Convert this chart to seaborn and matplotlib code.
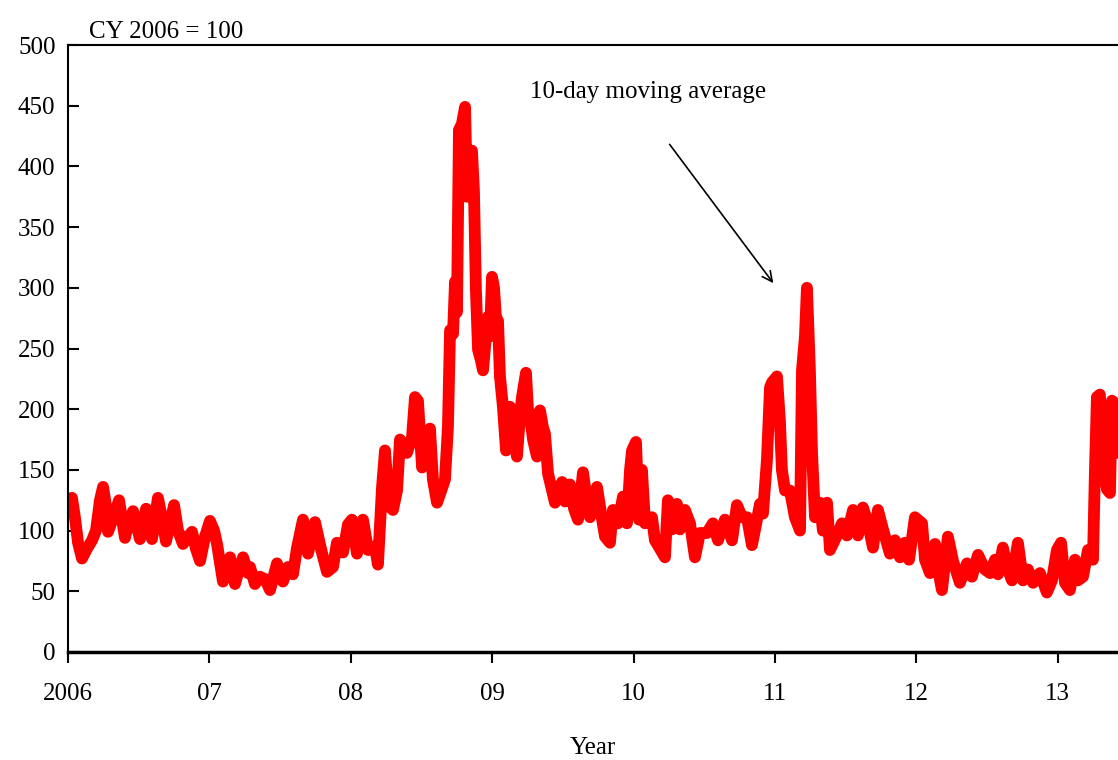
import numpy as np
import pandas as pd
import seaborn as sns
import matplotlib.pyplot as plt

# index values (CY 2006 = 100)
# t = years after 1 Jan 2006
t = [0.000, 0.028, 0.050, 0.071, 0.099, 0.134, 0.170, 0.198, 0.226, 0.248,
     0.269, 0.283, 0.318, 0.361, 0.403, 0.431, 0.460, 0.509, 0.552, 0.594,
     0.636, 0.665, 0.693, 0.750, 0.778, 0.813, 0.849, 0.877, 0.905, 0.934,
     0.969, 1.004, 1.033, 1.054, 1.096, 1.124, 1.146, 1.181, 1.202, 1.238,
     1.273, 1.287, 1.322, 1.358, 1.393, 1.429, 1.478, 1.520, 1.556, 1.591,
     1.620, 1.662, 1.697, 1.747, 1.789, 1.832, 1.874, 1.902, 1.945, 1.980,
     2.008, 2.044, 2.086, 2.122, 2.171, 2.192, 2.221, 2.242, 2.270, 2.298,
     2.327, 2.348, 2.397, 2.433, 2.454, 2.475, 2.504, 2.560, 2.581, 2.610,
     2.631, 2.666, 2.687, 2.702, 2.723, 2.737, 2.751, 2.765, 2.786, 2.808,
     2.822, 2.836, 2.857, 2.871, 2.885, 2.900, 2.921, 2.935, 2.956, 2.970,
     2.984, 2.999, 3.013, 3.027, 3.041, 3.055, 3.076, 3.098, 3.126, 3.154,
     3.175, 3.197, 3.211, 3.239, 3.253, 3.267, 3.289, 3.317, 3.338, 3.359,
     3.373, 3.395, 3.444, 3.494, 3.515, 3.550, 3.579, 3.607, 3.642, 3.670,
     3.692, 3.741, 3.769, 3.798, 3.833, 3.854, 3.890, 3.925, 3.953, 3.975,
     3.989, 4.017, 4.038, 4.059, 4.081, 4.130, 4.151, 4.187, 4.222, 4.243,
     4.271, 4.307, 4.328, 4.363, 4.399, 4.434, 4.469, 4.519, 4.561, 4.597,
     4.646, 4.696, 4.731, 4.767, 4.802, 4.837, 4.866, 4.894, 4.915, 4.943,
     4.965, 4.979, 5.014, 5.035, 5.049, 5.071, 5.106, 5.141, 5.177, 5.191,
     5.212, 5.226, 5.247, 5.262, 5.283, 5.318, 5.339, 5.368, 5.389, 5.438,
     5.474, 5.509, 5.552, 5.587, 5.622, 5.658, 5.693, 5.728, 5.764, 5.813,
     5.849, 5.884, 5.919, 5.948, 5.990, 6.040, 6.061, 6.096, 6.132, 6.153,
     6.181, 6.223, 6.259, 6.308, 6.358, 6.393, 6.436, 6.485, 6.521, 6.556,
     6.577, 6.612, 6.641, 6.676, 6.718, 6.754, 6.789, 6.825, 6.874, 6.923,
     6.959, 6.994, 7.023, 7.051, 7.086, 7.122, 7.143, 7.178, 7.214, 7.249,
     7.263, 7.277, 7.298, 7.320, 7.348, 7.369, 7.383, 7.404, 7.426]

index_val = [125, 127, 110, 90, 77, 85, 92, 100, 125, 136,
             120, 99, 110, 125, 94, 108, 116, 93, 118, 93,
             127, 110, 91, 121, 100, 89, 95, 99, 85, 75,
             95, 108, 100, 89, 58, 70, 78, 56, 65, 78,
             65, 70, 56, 62, 60, 51, 73, 58, 70, 64,
             86, 109, 81, 107, 85, 66, 70, 90, 82, 105,
             109, 81, 109, 84, 87, 72, 136, 166, 120, 117,
             133, 175, 164, 177, 210, 207, 152, 184, 142, 123,
             130, 142, 185, 265, 262, 305, 280, 430, 435, 449,
             375, 410, 413, 380, 298, 249, 240, 232, 260, 276,
             260, 309, 300, 275, 273, 227, 202, 166, 202, 180,
             161, 195, 210, 230, 200, 194, 175, 161, 199, 185,
             180, 147, 123, 140, 124, 138, 118, 109, 148, 125,
             111, 136, 115, 95, 90, 117, 106, 128, 106, 150,
             166, 173, 109, 150, 106, 111, 92, 85, 78, 125,
             101, 122, 101, 117, 106, 78, 98, 98, 106, 92,
             109, 92, 121, 111, 111, 88, 105, 122, 114, 158,
             218, 222, 227, 190, 150, 133, 133, 111, 100, 232,
             260, 300, 232, 164, 111, 123, 100, 123, 84, 96,
             106, 96, 117, 96, 119, 106, 86, 117, 101, 81,
             92, 78, 90, 76, 111, 106, 76, 65, 89, 68,
             51, 95, 75, 57, 73, 62, 80, 68, 65, 76,
             64, 86, 70, 59, 90, 59, 68, 57, 65, 49,
             59, 84, 90, 57, 51, 76, 59, 62, 84, 76,
             150, 210, 212, 156, 134, 131, 207, 205, 164]

year_ticks = [2006, 2007, 2008, 2009, 2010, 2011, 2012, 2013]
year_labels = ['2006', '07', '08', '09', '10', '11', '12', '13']

df = pd.DataFrame({'year': 2006 + np.array(t), 'index': index_val})

sns.set_theme(style='ticks')
plt.rcParams['font.family'] = ['Liberation Serif', 'DejaVu Serif']
plt.rcParams['text.color'] = 'black'

fig = plt.figure(figsize=(11.18, 7.6), dpi=100)
ax = fig.add_axes([68 / 1118, 1 - 652 / 760, 1 - 68 / 1118, (652 - 45) / 760])

sns.lineplot(data=df, x='year', y='index', color='#ff0000', linewidth=8.5,
             solid_joinstyle='round', solid_capstyle='round', ax=ax)

ax.set_xlim(2006, 2013.426)
ax.set_ylim(0, 500)
ax.set_yticks(range(0, 501, 50))
ax.set_xticks(year_ticks)
ax.set_xticklabels(year_labels)

ax.tick_params(axis='y', direction='in', length=8, width=1.5, pad=9,
               labelsize=18, colors='black')
ax.tick_params(axis='x', direction='out', length=8, width=1.5, pad=14,
               labelsize=18, colors='black')

for side in ['left', 'top']:
    ax.spines[side].set_linewidth(1.5)
    ax.spines[side].set_color('black')
ax.spines['bottom'].set_linewidth(2.5)
ax.spines['bottom'].set_color('black')
ax.spines['right'].set_visible(False)

ax.set_xlabel('Year', fontsize=18, labelpad=23, color='black')
ax.set_ylabel('')

ax.text(0.02, 1.003, 'CY 2006 = 100', transform=ax.transAxes, fontsize=18,
        va='bottom', ha='left', color='black')

ax.annotate('10-day moving average', xy=(2011.0, 302), xytext=(2009.265, 461),
            fontsize=18, va='center', ha='left', color='black')
ax.annotate('', xy=(2011.0, 302), xytext=(2010.243, 420),
            arrowprops=dict(arrowstyle='->', color='black', lw=1.2,
                            mutation_scale=18))

fig.savefig('out.png', dpi=100)
